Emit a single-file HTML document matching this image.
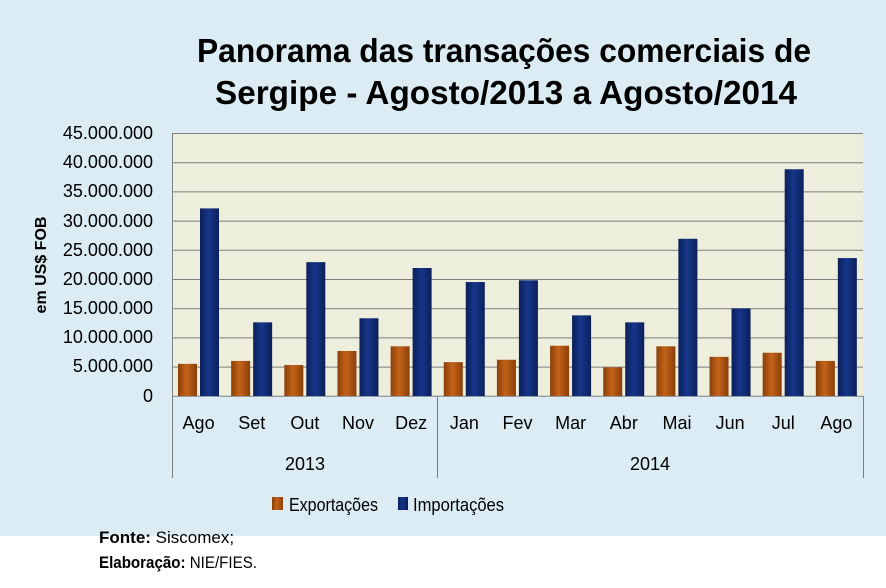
<!DOCTYPE html>
<html><head><meta charset="utf-8"><style>
html,body{margin:0;padding:0;background:#fff}
svg{display:block}
text{font-family:"Liberation Sans",sans-serif}
</style></head><body>
<svg width="886" height="588" viewBox="0 0 886 588" xmlns="http://www.w3.org/2000/svg">
<defs>
<linearGradient id="og" x1="0" x2="1" y1="0" y2="0">
<stop offset="0" stop-color="#8a3f08"/><stop offset="0.45" stop-color="#c4621a"/><stop offset="1" stop-color="#8a3f08"/></linearGradient>
<linearGradient id="bg" x1="0" x2="1" y1="0" y2="0">
<stop offset="0" stop-color="#0b1f5a"/><stop offset="0.45" stop-color="#17368a"/><stop offset="1" stop-color="#0b1f5a"/></linearGradient>
</defs>
<rect x="0" y="0" width="886" height="536" fill="#dbecf4"/>
<text x="504" y="62" font-size="33" font-weight="bold" text-anchor="middle" textLength="614" lengthAdjust="spacingAndGlyphs" fill="#000">Panorama das transações comerciais de</text>
<text x="506" y="104" font-size="33" font-weight="bold" text-anchor="middle" textLength="582" lengthAdjust="spacingAndGlyphs" fill="#000">Sergipe - Agosto/2013 a Agosto/2014</text>
<rect x="172" y="133" width="691" height="263" fill="#eeeedc"/>
<g stroke="#7f7f7f" stroke-width="1">
<line x1="172" x2="863" y1="133.5" y2="133.5"/>
<line x1="172" x2="863" y1="162.7" y2="162.7"/>
<line x1="172" x2="863" y1="191.9" y2="191.9"/>
<line x1="172" x2="863" y1="221.1" y2="221.1"/>
<line x1="172" x2="863" y1="250.3" y2="250.3"/>
<line x1="172" x2="863" y1="279.5" y2="279.5"/>
<line x1="172" x2="863" y1="308.7" y2="308.7"/>
<line x1="172" x2="863" y1="337.9" y2="337.9"/>
<line x1="172" x2="863" y1="367.1" y2="367.1"/>
<line x1="172" x2="863" y1="396.3" y2="396.3"/>
<line x1="172.5" x2="172.5" y1="133" y2="478"/>
<line x1="437.5" x2="437.5" y1="396" y2="478"/>
<line x1="863.5" x2="863.5" y1="396" y2="478"/>
</g>
<g id="bars"></g>
<g font-size="18" fill="#000" text-anchor="end">
<text x="153" y="139">45.000.000</text><text x="153" y="168">40.000.000</text>
<text x="153" y="197">35.000.000</text><text x="153" y="227">30.000.000</text>
<text x="153" y="256">25.000.000</text><text x="153" y="285">20.000.000</text>
<text x="153" y="314">15.000.000</text><text x="153" y="343">10.000.000</text>
<text x="153" y="372">5.000.000</text><text x="153" y="402">0</text>
</g>
<text transform="translate(46,265) rotate(-90)" font-size="16" font-weight="bold" text-anchor="middle">em US$ FOB</text>
<g font-size="18" text-anchor="middle" id="months"></g>
<text x="305" y="470" font-size="18" text-anchor="middle">2013</text>
<text x="650" y="470" font-size="18" text-anchor="middle">2014</text>
<rect x="272" y="497" width="11" height="13" fill="url(#og)"/>
<text x="289" y="511" font-size="18" textLength="89" lengthAdjust="spacingAndGlyphs">Exportações</text>
<rect x="398" y="497" width="10" height="13" fill="url(#bg)"/>
<text x="413" y="511" font-size="18" textLength="91" lengthAdjust="spacingAndGlyphs">Importações</text>
<text x="99" y="543" font-size="17"><tspan font-weight="bold">Fonte:</tspan> Siscomex;</text>
<text x="99" y="568" font-size="17" textLength="158" lengthAdjust="spacingAndGlyphs"><tspan font-weight="bold">Elaboração:</tspan> NIE/FIES.</text>
</svg>
<script>
var ex=[5.5,6,5.3,7.7,8.5,5.8,6.2,8.6,4.9,8.5,6.7,7.4,6.0];
var im=[32.1,12.6,22.9,13.3,21.9,19.5,19.8,13.8,12.6,26.9,15.0,38.8,23.6];
var m=["Ago","Set","Out","Nov","Dez","Jan","Fev","Mar","Abr","Mai","Jun","Jul","Ago"];
var ns="http://www.w3.org/2000/svg",g=document.getElementById("bars"),mg=document.getElementById("months");
var cw=691/13,s=263/45;
function r(x,v,f){var h=v*s,e=document.createElementNS(ns,"rect");e.setAttribute("x",x);e.setAttribute("y",396-h);e.setAttribute("width",19);e.setAttribute("height",h);e.setAttribute("fill",f);g.appendChild(e);}
for(var i=0;i<13;i++){var x0=172+i*cw;r(x0+6,ex[i],"url(#og)");r(x0+28,im[i],"url(#bg)");
var t=document.createElementNS(ns,"text");t.setAttribute("x",x0+cw/2);t.setAttribute("y",429);t.textContent=m[i];mg.appendChild(t);}
</script>
</body></html>
